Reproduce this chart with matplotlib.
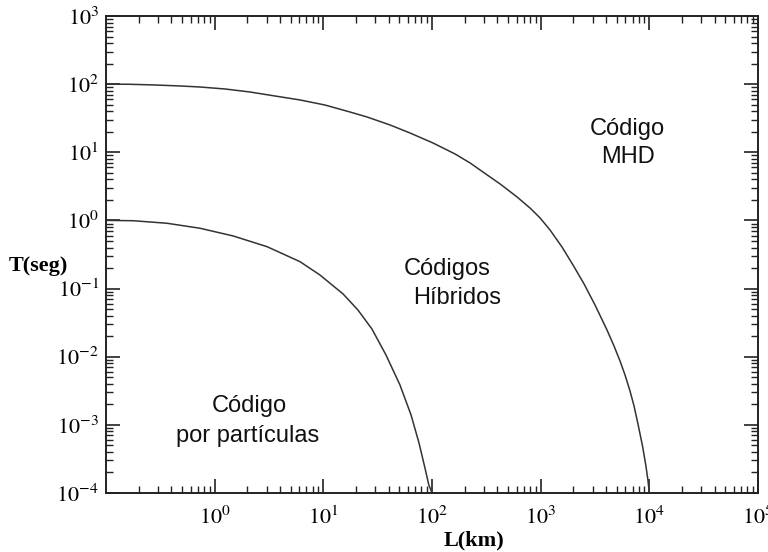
import matplotlib
matplotlib.use('Agg')
import matplotlib.pyplot as plt
from matplotlib.ticker import LogLocator, NullFormatter

plt.rcParams['font.family'] = 'Liberation Serif'
plt.rcParams['mathtext.fontset'] = 'stix'

# curves (L in km, T in s)
L_part = [0.1, 0.177, 0.364, 0.733, 1.475, 3.03, 6.10, 9.31, 15.2, 20.8, 28.0, 37.7,
          50.7, 64.1, 75.9, 86.1, 93.5, 100]
T_part = [1.0, 0.99, 0.908, 0.767, 0.592, 0.412, 0.248, 0.158, 0.0832, 0.0485, 0.0255, 0.0106,
          0.00385, 0.0014, 0.000542, 0.000233, 0.000131, 1e-4]

L_mhd = [0.1, 0.166, 0.282, 0.48, 0.733, 1.245, 2.11, 3.59, 6.10, 10.35, 17.6, 25.2,
         41.0, 62.7, 102, 163, 224, 294, 423, 606, 798, 986, 1219, 1571,
         1983, 2506, 3162, 4074, 4730, 5370, 5970, 6637, 7228, 7857, 8650, 9300, 9700, 10000]
T_mhd = [100, 99.5, 97.2, 94.0, 90.8, 84.9, 76.7, 67.0, 58.6, 49.4, 39.0, 33.0,
         25.2, 19.2, 13.7, 9.44, 6.97, 5.14, 3.43, 2.21, 1.52, 1.09, 0.724, 0.407,
         0.222, 0.117, 0.0574, 0.0247, 0.01435, 0.00865, 0.0054, 0.00314, 0.00189, 0.00103, 0.00049, 0.000249, 0.000155, 1e-4]

fig = plt.figure(figsize=(7.68, 5.52), dpi=100)
ax = fig.add_axes([0.138, 0.107, 0.849, 0.864])

ax.plot(L_part, T_part, color='#333333', lw=1.1)
ax.plot(L_mhd, T_mhd, color='#333333', lw=1.1)

ax.set_xscale('log')
ax.set_yscale('log')
ax.set_xlim(0.1, 1e5)
ax.set_ylim(1e-4, 1e3)

ax.xaxis.set_minor_locator(LogLocator(base=10, subs=range(2, 10), numticks=20))
ax.yaxis.set_minor_locator(LogLocator(base=10, subs=range(2, 10), numticks=20))
ax.xaxis.set_minor_formatter(NullFormatter())
ax.yaxis.set_minor_formatter(NullFormatter())

ax.tick_params(which='both', direction='in', top=True, right=True, color='#222222')
ax.tick_params(which='major', length=10, width=1.2, labelsize=16)
ax.tick_params(which='minor', length=5, width=1.0)
ax.tick_params(axis='x', which='major', pad=10)
ax.tick_params(axis='y', which='major', pad=5)
ax.set_xticks([1, 10, 100, 1000, 10000, 100000])
ax.set_xticklabels(['$10^{0}$', '$10^{1}$', '$10^{2}$', '$10^{3}$', '$10^{4}$', '$10^{5}$'])
ax.set_yticks([1e-4, 1e-3, 1e-2, 1e-1, 1, 10, 100, 1000])
ax.set_yticklabels(['$10^{-4}$', '$10^{-3}$', '$10^{-2}$', '$10^{-1}$', '$10^{0}$', '$10^{1}$', '$10^{2}$', '$10^{3}$'])
for s in ax.spines.values():
    s.set_linewidth(1.4)
    s.set_color('#222222')

sans = 'Liberation Sans'
kw = dict(transform=ax.transAxes, ha='center', va='baseline', fontsize=17, family=sans, color='#111111')
ax.text(0.800, 0.751, 'Código', **kw)
ax.text(0.800, 0.692, 'MHD', **kw)
ax.text(0.524, 0.457, 'Códigos', **kw)
ax.text(0.539, 0.396, 'Híbridos', **kw)
ax.text(0.220, 0.170, 'Código', **kw)
ax.text(0.217, 0.106, 'por partículas', **kw)

fig.text(38 / 768, 1 - 266 / 552, 'T(seg)', ha='center', va='center', fontsize=16, fontweight='bold')
fig.text(474 / 768, 1 - 540 / 552, 'L(km)', ha='center', va='center', fontsize=16, fontweight='bold')

fig.savefig('out.png', dpi=100)
